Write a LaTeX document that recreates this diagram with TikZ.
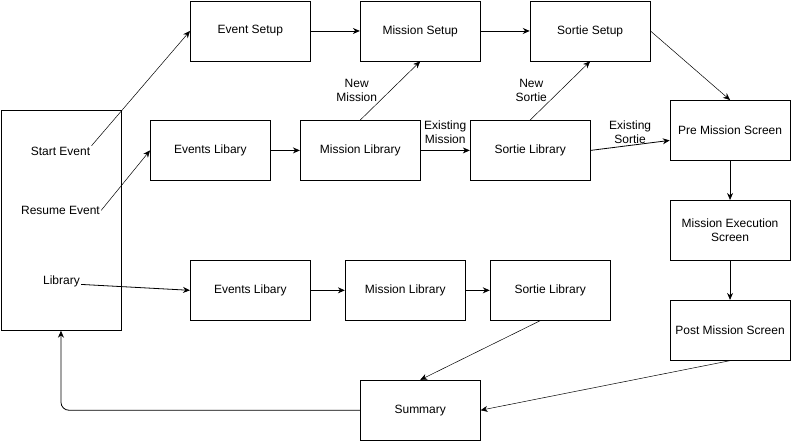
\documentclass[tikz,border=0pt]{standalone}
\usepackage{fontspec}
\setmainfont{Liberation Sans}
\usepackage{tikz}
\usetikzlibrary{positioning, arrows.meta}

\begin{document}
\begin{tikzpicture}[x=1pt, y=-1pt, line width=0.8pt,
    font=\fontsize{12}{14}\selectfont,
    screen/.style={draw, minimum width=120pt, minimum height=60pt, inner sep=0pt, align=center},
    flow/.style={-{Stealth[length=7pt, width=6pt]}},
    lbl/.style={inner sep=1pt, align=center}]
  \useasboundingbox (-0.5,-0.5) rectangle (791,441);

  % start menu
  \node[draw, minimum width=120pt, minimum height=220pt, inner sep=0pt] (menu) at (60.5,220) {};
  \node[inner sep=1pt] (startev) at (60,151) {Start Event};
  \node[inner sep=1pt] (resumeev) at (60,210) {Resume Event};
  \node[inner sep=1pt] (libtext) at (61,281) {Library};

  % setup row
  \node[screen] (evsetup) at (250,30.5) {Event Setup};
  \node[screen] (missetup) at (420,30.5) {Mission Setup};
  \node[screen] (sortsetup) at (590,30.5) {Sortie Setup};

  % library row
  \node[screen] (evlib) at (210,150) {Events Libary};
  \node[screen] (mislib) at (360,150) {Mission Library};
  \node[screen] (sortlib) at (530,150) {Sortie Library};

  % mission screens
  \node[screen] (premis) at (730,130) {Pre Mission Screen};
  \node[screen] (execmis) at (730,230) {Mission Execution\\Screen};
  \node[screen] (postmis) at (730,330) {Post Mission Screen};

  % browse row
  \node[screen] (evlibb) at (250,290) {Events Libary};
  \node[screen] (mislibb) at (405,290) {Mission Library};
  \node[screen] (sortlibb) at (550,290) {Sortie Library};
  \node[screen] (summary) at (420,410) {Summary};

  \draw[flow, line width=0.5pt] (startev.north east) -- (evsetup.west);
  \draw[flow, line width=0.5pt] (resumeev.east) -- (evlib.west);
  \draw[flow] (libtext.base east) -- (evlibb.west);

  \draw[flow] (evsetup) -- (missetup);
  \draw[flow] (missetup) -- (sortsetup);
  \draw[flow, line width=0.5pt] (sortsetup.east) -- (premis.north);

  \draw[flow] (evlib) -- (mislib);
  \draw[flow] (mislib) -- node[lbl, above=5pt] {Existing\\Mission} (sortlib);
  \draw[flow, line width=0.5pt] (mislib.north) -- node[lbl, left=12pt] {New\\Mission} (missetup.south);
  \draw[flow, line width=0.5pt] (sortlib.north) -- node[lbl, left=12pt] {New\\Sortie} (sortsetup.south);
  \draw[flow] (sortlib.east) -- node[lbl, above=0pt] {Existing\\Sortie} ([yshift=-10pt]premis.west);

  \draw[flow] (premis) -- (execmis);
  \draw[flow] (execmis) -- (postmis);
  \draw[flow, line width=0.5pt] (postmis.south) -- (summary.east);

  \draw[flow] (evlibb) -- (mislibb);
  \draw[flow] (mislibb) -- (sortlibb);
  \draw[flow, line width=0.5pt] ([xshift=-10pt]sortlibb.south) -- (summary.north);
  \draw[flow, rounded corners=8pt] (summary.west) -| (menu.south);
\end{tikzpicture}
\end{document}
